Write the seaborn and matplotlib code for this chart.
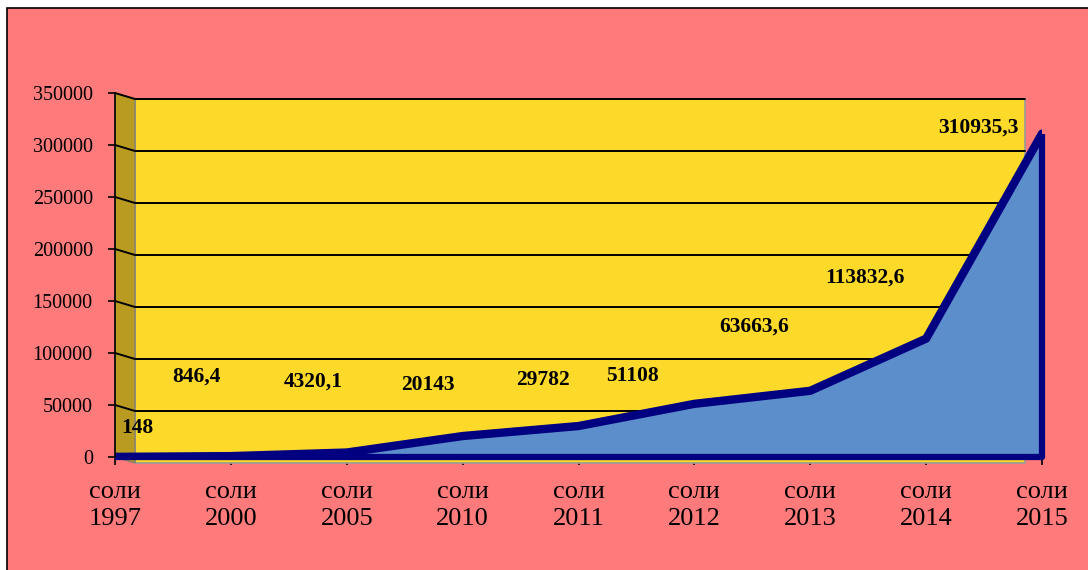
import matplotlib as mpl
import matplotlib.pyplot as plt
import seaborn as sns
import numpy as np
from matplotlib.patches import Rectangle, Polygon

years = ['1997', '2000', '2005', '2010', '2011', '2012', '2013', '2014', '2015']
values = [148, 846.4, 4320.1, 20143, 29782, 51108, 63663.6, 113832.6, 310935.3]
value_labels = ['148', '846,4', '4320,1', '20143', '29782', '51108', '63663,6', '113832,6', '310935,3']
y_ticks = [0, 50000, 100000, 150000, 200000, 250000, 300000, 350000]

# label offsets in pixels (layout only)
label_offsets = [(22, 29), (-34, 80), (-34, 71), (-35, 51), (-36, 46),
                 (-62, 28), (-56, 64), (-61, 61), (-64, 6)]

sns.set_style('white')
plt.rcParams['font.family'] = ['Liberation Serif', 'DejaVu Serif']

W, H = 1088, 570
fig = plt.figure(figsize=(W / 100, H / 100), dpi=100)
fig.patch.set_facecolor('white')

# pink chart area with border
bg = Rectangle((7 / W, -0.01), 1.0, (H - 8) / H + 0.01, transform=fig.transFigure,
               facecolor='#FF7B7B', edgecolor='black', linewidth=1.2, zorder=-10)
fig.add_artist(bg)

# axes so that category 0..8 -> px 115..1042 and 0..350000 -> px 457..93
x0, x1 = 115, 1042
y0, y1 = 457, 93
ax = fig.add_axes([x0 / W, (H - y0) / H, (x1 - x0) / W, (y0 - y1) / H])
ax.set_zorder(1)
ax.set_xlim(0, 8)
ax.set_ylim(0, 350000)
ax.patch.set_alpha(0)
for s in ax.spines.values():
    s.set_visible(False)

px_x = 8 / (x1 - x0)
px_y = 350000 / (y0 - y1)
dx = 20 * px_x      # depth shift of the back wall
dy = -6 * px_y
wall_right = (1025 - x0) * px_x

# back wall
ax.add_patch(Rectangle((dx, dy), wall_right - dx, 350000, facecolor='#FDDA2A',
                       edgecolor='#9A9A9A', linewidth=1.2, zorder=1, clip_on=False))
# side wall
ax.add_patch(Polygon([(0, 0), (dx, dy), (dx, 350000 + dy), (0, 350000)], closed=True,
                     facecolor='#B99B22', edgecolor='#7A7A7A', linewidth=0.8, zorder=1, clip_on=False))
# gridlines on walls
for t in y_ticks[1:]:
    ax.plot([0, dx, wall_right], [t, t + dy, t + dy], color='black', linewidth=1.4,
            zorder=2, clip_on=False)

# area
xs = np.arange(len(years))
ax.fill_between(xs, values, 0, color='#5B8ECB', zorder=3, linewidth=0)
sns.lineplot(x=xs, y=values, ax=ax, color='#000080', linewidth=6, zorder=4,
             solid_joinstyle='round', solid_capstyle='round')
ax.plot([xs[0], xs[-1], xs[-1]], [0, 0, values[-1]], color='#000080', linewidth=4.5, zorder=4,
        solid_capstyle='butt', clip_on=False)

# value labels
for i, (v, lab) in enumerate(zip(values, value_labels)):
    ax.annotate(lab, xy=(i, v), xytext=label_offsets[i], textcoords='offset pixels',
                ha='center', va='center', fontsize=15.5, fontweight='bold', color='black', zorder=6)

# axes lines and ticks
ax.plot([0, 0], [0, 350000], color='black', linewidth=1.2, zorder=5, clip_on=False)
ax.plot([0, 8], [0, 0], color='#555555', linewidth=1.2, zorder=2, clip_on=False)
ax.set_yticks(y_ticks)
ax.set_yticklabels([str(t) for t in y_ticks], fontsize=14.5, color='black')
ax.set_xticks(xs)
ax.set_xticklabels(['соли\n' + y for y in years], fontsize=19, linespacing=1.3, color='black')
ax.tick_params(axis='y', length=5, width=1.2, color='black', pad=11, left=True)
ax.tick_params(axis='x', length=6, width=1.2, color='black', pad=11, bottom=True)

fig.savefig('out.png', dpi=100)
